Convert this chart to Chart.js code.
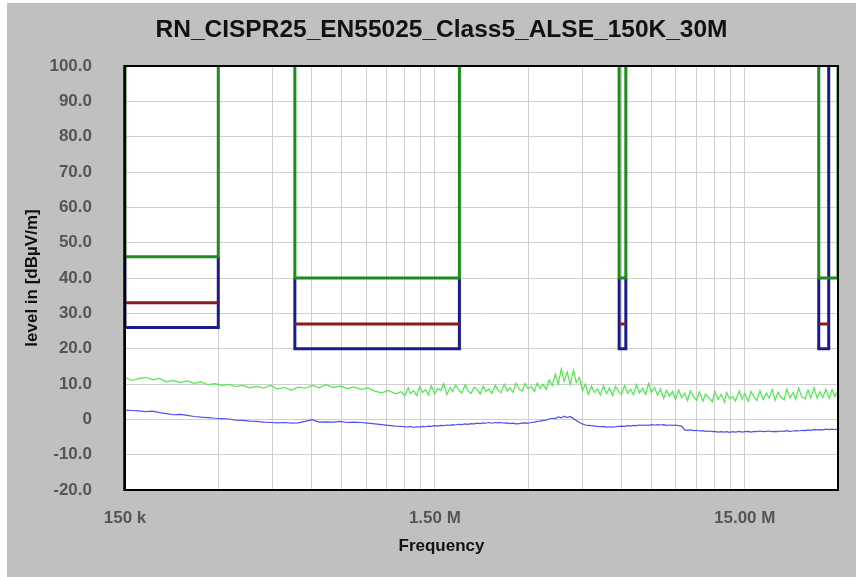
<!DOCTYPE html>
<html><head><meta charset="utf-8">
<script src="https://cdn.jsdelivr.net/npm/chart.js@4.4.1/dist/chart.umd.min.js"></script>
<style>html,body{margin:0;padding:0;background:#fff;}#wrap{position:relative;width:861px;height:577px;}canvas{display:block;}</style>
</head><body><div id="wrap"><canvas id="c" width="861" height="577"></canvas></div>
<script>
// ---------- data ----------
const chartTitle = 'RN_CISPR25_EN55025_Class5_ALSE_150K_30M';
const xAxisTitle = 'Frequency';
const yAxisTitle = 'level in [dBµV/m]';

// Limit bands (MHz, dBµV/m)
const bandStartMHz = [0.15, 0.53, 5.9, 26];
const bandStopMHz  = [0.30, 1.8, 6.2, 28];
const peakStopMHz  = [0.30, 1.8, 6.2, 30];
const peakLimit    = [46, 40, 40, 40];
const qpLimit      = [33, 27, 27, 27];
const avgLimit     = [26, 20, 20, 20];

// Measured traces
const freqMHz = [
  0.150, 0.158, 0.166, 0.175, 0.184, 0.194, 0.204, 0.215, 0.226, 0.238,
  0.251, 0.264, 0.278, 0.293, 0.308, 0.325, 0.342, 0.360, 0.379, 0.399,
  0.420, 0.442, 0.466, 0.490, 0.516, 0.544, 0.572, 0.603, 0.635, 0.668,
  0.704, 0.741, 0.780, 0.821, 0.865, 0.911, 0.959, 1.01, 1.06, 1.12,
  1.17, 1.20, 1.23, 1.25, 1.28, 1.31, 1.34, 1.37, 1.40, 1.43,
  1.46, 1.50, 1.53, 1.57, 1.60, 1.64, 1.68, 1.71, 1.75, 1.79,
  1.83, 1.88, 1.92, 1.96, 2.01, 2.05, 2.10, 2.15, 2.19, 2.24,
  2.29, 2.35, 2.40, 2.45, 2.51, 2.57, 2.62, 2.68, 2.74, 2.81,
  2.87, 2.93, 3.00, 3.07, 3.14, 3.21, 3.28, 3.35, 3.43, 3.51,
  3.59, 3.67, 3.75, 3.84, 3.92, 4.01, 4.10, 4.20, 4.29, 4.39,
  4.49, 4.59, 4.69, 4.80, 4.91, 5.02, 5.13, 5.25, 5.37, 5.49,
  5.61, 5.74, 5.87, 6.00, 6.14, 6.28, 6.42, 6.56, 6.71, 6.86,
  7.02, 7.18, 7.34, 7.50, 7.67, 7.85, 8.02, 8.21, 8.39, 8.58,
  8.77, 8.97, 9.18, 9.38, 9.60, 9.81, 10.0, 10.3, 10.5, 10.7,
  11.0, 11.2, 11.5, 11.8, 12.0, 12.3, 12.6, 12.9, 13.1, 13.4,
  13.7, 14.0, 14.4, 14.7, 15.0, 15.4, 15.7, 16.1, 16.4, 16.8,
  17.2, 17.6, 18.0, 18.4, 18.8, 19.2, 19.6, 20.1, 20.5, 21.0,
  21.5, 21.9, 22.4, 22.9, 23.5, 24.0, 24.5, 25.1, 25.7, 26.2,
  26.8, 27.4, 28.1, 28.7, 29.3, 30.0
];
const peakTrace = [
  11.8, 11.0, 11.5, 11.9, 11.2, 11.6, 10.6, 11.0, 10.4, 10.9,
  10.2, 10.6, 9.8, 10.1, 9.6, 9.9, 9.3, 9.6, 8.9, 9.3,
  8.8, 9.6, 8.6, 9.0, 8.3, 9.1, 8.8, 9.6, 8.9, 9.8,
  9.0, 9.4, 8.7, 9.2, 8.5, 8.9, 8.0, 7.5, 8.2, 7.2,
  7.8, 6.6, 8.9, 7.3, 8.1, 6.7, 9.2, 7.6, 8.4, 6.9,
  9.5, 7.2, 8.8, 8.1, 10.1, 7.0, 9.0, 7.9, 9.7, 8.3,
  7.4, 9.8, 8.0, 7.3, 9.1, 8.5, 7.2, 9.4, 7.9, 8.6,
  7.3, 9.6, 8.2, 7.5, 9.9, 8.0, 8.9, 7.6, 10.2, 8.4,
  8.0, 10.1, 8.6, 9.3, 7.9, 10.3, 8.7, 9.9, 8.5, 11.2,
  9.6, 12.8, 10.0, 14.3, 10.8, 13.4, 9.9, 13.9, 10.4, 11.9,
  8.1, 10.0, 7.0, 9.4, 7.6, 8.6, 6.9, 9.5, 7.3, 8.9,
  6.8, 9.3, 7.9, 7.0, 9.6, 7.4, 8.5, 6.9, 9.8, 7.5,
  8.8, 7.0, 10.1, 7.6, 9.0, 6.8, 8.6, 5.9, 8.2, 6.6,
  7.9, 5.6, 8.3, 6.1, 7.4, 5.3, 8.0, 6.2, 5.4, 7.7,
  5.1, 7.2, 6.0, 5.0, 7.9, 5.6, 7.0, 4.9, 7.6, 5.8,
  6.5, 5.2, 8.0, 5.7, 7.3, 5.1, 7.9, 6.2, 5.3, 8.1,
  5.6, 7.4, 6.0, 8.4, 5.4, 7.7, 6.3, 5.5, 8.5, 6.1,
  7.6, 5.7, 8.8, 6.4, 5.8, 8.3, 6.0, 8.9, 5.9, 7.8,
  6.2, 8.6, 5.9, 8.4, 6.5, 7.9
];
const avgTrace = [
  2.6, 2.5, 2.4, 2.2, 2.3, 1.9, 1.6, 1.3, 1.4, 1.1,
  0.8, 0.6, 0.5, 0.3, 0.2, 0.1, -0.2, -0.3, -0.5, -0.6,
  -0.8, -0.9, -1.0, -0.9, -1.1, -1.0, -0.6, -0.1, -0.8, -0.7,
  -0.8, -0.6, -0.9, -0.8, -0.9, -1.1, -1.3, -1.5, -1.7, -1.9,
  -2.0, -2.1, -2.2, -2.0, -2.3, -2.1, -2.2, -2.0, -2.1, -1.9,
  -2.0, -1.8, -1.9, -1.7, -1.8, -1.6, -1.7, -1.5, -1.6, -1.4,
  -1.5, -1.3, -1.4, -1.2, -1.3, -1.1, -1.2, -1.0, -1.1, -0.9,
  -1.1, -0.9, -1.0, -0.9, -1.1, -1.0, -1.2, -1.1, -1.3, -1.2,
  -1.1, -1.0, -1.1, -0.9, -0.8, -0.6, -0.5, -0.3, -0.2, 0.1,
  0.3, 0.2, 0.7, 0.4, 0.9, 0.5, 0.8, 0.2, -0.3, -0.9,
  -1.3, -1.6, -1.7, -1.8, -1.9, -2.0, -2.1, -2.0, -2.2, -2.1,
  -2.2, -2.1, -2.0, -1.9, -2.0, -1.8, -1.9, -1.7, -1.8, -1.6,
  -1.7, -1.6, -1.7, -1.5, -1.6, -1.5, -1.6, -1.5, -1.7, -1.6,
  -1.7, -1.6, -1.8, -1.9, -3.0, -3.1, -3.0, -3.2, -3.1, -3.3,
  -3.2, -3.4, -3.3, -3.5, -3.4, -3.6, -3.5, -3.6, -3.5, -3.7,
  -3.5, -3.6, -3.4, -3.6, -3.5, -3.4, -3.6, -3.4, -3.5, -3.3,
  -3.5, -3.4, -3.3, -3.5, -3.4, -3.5, -3.3, -3.4, -3.2, -3.4,
  -3.3, -3.2, -3.3, -3.1, -3.2, -3.0, -3.1, -2.9, -3.0, -2.9,
  -3.0, -2.8, -2.9, -2.8, -2.9, -2.8
];

// Axis ticks
const xGridTicksMHz = [0.15, 0.3, 0.45, 0.6, 0.75, 0.9, 1.05, 1.2, 1.35, 1.5,
                       3, 4.5, 6, 7.5, 9, 10.5, 12, 13.5, 15, 30];
const xLabelValuesMHz = [0.15, 1.5, 15];
const xLabelTexts = ['150 k', '1.50 M', '15.00 M'];
const yTickValues = [-20, -10, 0, 10, 20, 30, 40, 50, 60, 70, 80, 90, 100];
const yTickLabels = ['-20.0', '-10.0', '0', '10.0', '20.0', '30.0', '40.0', '50.0', '60.0', '70.0', '80.0', '90.0', '100.0'];

// ---------- build ----------
const TOP = 100;
function peakPath() {
  const pts = [];
  bandStartMHz.forEach((s, i) => {
    pts.push({x: s, y: TOP}, {x: s, y: peakLimit[i]}, {x: peakStopMHz[i], y: peakLimit[i]}, {x: peakStopMHz[i], y: TOP}, {x: peakStopMHz[i], y: null});
  });
  return pts;
}
function avgPath() {
  const pts = [];
  bandStartMHz.forEach((s, i) => {
    const e = bandStopMHz[i];
    const topStart = peakLimit[i];
    const topEnd = (e === peakStopMHz[i]) ? peakLimit[i] : TOP;
    pts.push({x: s, y: topStart}, {x: s, y: avgLimit[i]}, {x: e, y: avgLimit[i]}, {x: e, y: topEnd}, {x: e, y: null});
  });
  return pts;
}
function qpPath() {
  const pts = [];
  bandStartMHz.forEach((s, i) => {
    pts.push({x: s, y: qpLimit[i]}, {x: bandStopMHz[i], y: qpLimit[i]}, {x: bandStopMHz[i], y: null});
  });
  return pts;
}

const FONT = "'Liberation Sans', Arial, sans-serif";
Chart.defaults.font.family = FONT;

const frame = {
  id: 'frame',
  beforeDraw(chart) {
    const {ctx, chartArea: a} = chart;
    ctx.save();
    ctx.fillStyle = '#ffffff'; ctx.fillRect(0, 0, chart.width, chart.height);
    ctx.fillStyle = '#c0c0c0'; ctx.fillRect(7, 3, 849, 574);
    ctx.fillStyle = '#ffffff'; ctx.fillRect(a.left, a.top, a.right - a.left, a.bottom - a.top);
    ctx.restore();
  },
  afterDraw(chart) {
    const {ctx, chartArea: a} = chart;
    ctx.save();
    ctx.strokeStyle = '#000'; ctx.lineWidth = 2;
    ctx.strokeRect(a.left, a.top, a.right - a.left, a.bottom - a.top);
    ctx.strokeStyle = '#333'; ctx.lineWidth = 1;
    ctx.beginPath(); ctx.moveTo(a.left - 1.5, a.top - 1); ctx.lineTo(a.left - 1.5, a.bottom + 1); ctx.stroke();
    ctx.restore();
  }
};

const lineBase = {pointRadius: 0, tension: 0, spanGaps: false, fill: false, borderCapStyle: 'butt', borderJoinStyle: 'miter'};

new Chart(document.getElementById('c'), {
  type: 'line',
  data: {
    datasets: [
      Object.assign({label: 'Peak limit', data: peakPath(), borderColor: '#1c8a1c', borderWidth: 3}, lineBase),
      Object.assign({label: 'QP limit', data: qpPath(), borderColor: '#8c1a1a', borderWidth: 3}, lineBase),
      Object.assign({label: 'Average limit', data: avgPath(), borderColor: '#1a1a8c', borderWidth: 3}, lineBase),
      Object.assign({label: 'Peak', data: freqMHz.map((f, i) => ({x: f, y: peakTrace[i]})), borderColor: '#4fe84f', borderWidth: 1.2}, lineBase),
      Object.assign({label: 'Average', data: freqMHz.map((f, i) => ({x: f, y: avgTrace[i]})), borderColor: '#5050ec', borderWidth: 1.2}, lineBase)
    ]
  },
  options: {
    responsive: false,
    animation: false,
    events: [],
    layout: {padding: {left: 45, right: 23, top: 0, bottom: 0}},
    scales: {
      x: {
        type: 'logarithmic', min: 0.15, max: 30,
        afterBuildTicks: s => { s.ticks = xGridTicksMHz.map(v => ({value: v})); },
        afterFit: s => { s.height = 45.8; },
        grid: {color: '#cfcfcf', lineWidth: 1, drawTicks: false},
        border: {display: false},
        ticks: {
          autoSkip: false, maxRotation: 0, minRotation: 0, padding: 18, color: '#555',
          font: {size: 17, weight: 'bold'},
          callback: v => { const k = xLabelValuesMHz.findIndex(t => Math.abs(t - v) < 1e-9); return k >= 0 ? xLabelTexts[k] : ''; }
        }
      },
      y: {
        min: -20, max: 100,
        afterBuildTicks: s => { s.ticks = yTickValues.map(v => ({value: v})); },
        afterFit: s => { s.width = 80; },
        grid: {color: '#cfcfcf', lineWidth: 1, drawTicks: false},
        border: {display: false},
        ticks: {
          padding: 33, color: '#555', font: {size: 17, weight: 'bold'},
          callback: v => { const k = yTickValues.indexOf(v); return k >= 0 ? yTickLabels[k] : ''; }
        },
        title: {display: true, text: yAxisTitle, color: '#111', font: {size: 17, weight: 'bold'}, padding: {top: -23.2, bottom: 0}}
      }
    },
    plugins: {
      legend: {display: false},
      tooltip: {enabled: false},
      title: {display: true, text: chartTitle, color: '#111', font: {size: 24.5, weight: 'bold'}, padding: {top: 16, bottom: 20.6}},
      subtitle: {display: true, position: 'bottom', text: xAxisTitle, color: '#111', font: {size: 17, weight: 'bold'}, padding: {top: 0, bottom: 20.8}}
    }
  },
  plugins: [frame]
});
</script>
</body></html>
